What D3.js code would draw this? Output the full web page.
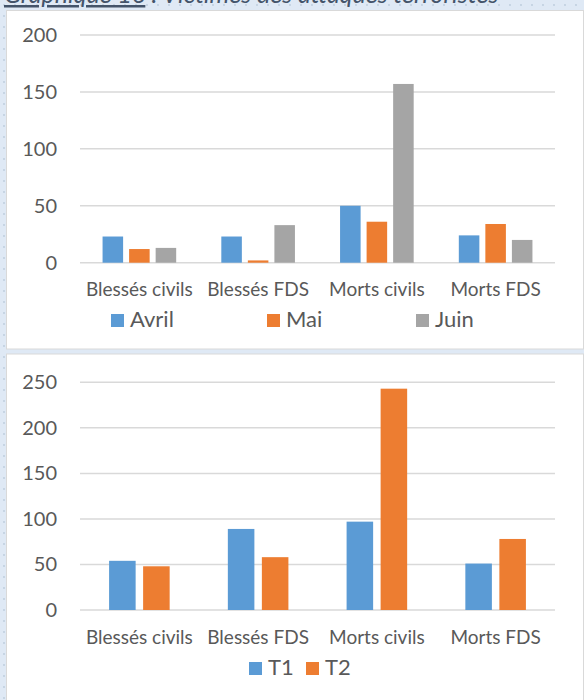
<!DOCTYPE html>
<html>
<head>
<meta charset="utf-8"/>
<title>Victimes des attaques terroristes</title>
<script src="https://d3js.org/d3.v7.min.js"></script>
<style>
    body { margin: 0; background: #dfe9f5; }
    svg { display: block; font-family: Lato, "Open Sans", sans-serif; }
    .tick text { fill: #595959; }
    .grid line { stroke: #d9d9d9; stroke-width: 1.5px; }
    .cat { fill: #595959; }
    .legend text { fill: #595959; }
</style>
</head>
<body>
<div id="chart"></div>
<script>
    // data
    var categories = ["Blessés civils", "Blessés FDS", "Morts civils", "Morts FDS"];
    var months = ["Avril", "Mai", "Juin"];
    var avril = [23, 23, 50, 24];
    var mai = [12, 2, 36, 34];
    var juin = [13, 33, 157, 20];
    var quarters = ["T1", "T2"];
    var t1 = [54, 89, 97, 51];
    var t2 = [48, 58, 243, 78];
    var ticksTop = [0, 50, 100, 150, 200];
    var ticksBottom = [0, 50, 100, 150, 200, 250];
    var colors = ["#5b9bd5", "#ed7d31", "#a5a5a5"];

    var width = 584, height = 700;

    var svg = d3.select("#chart").append("svg")
        .attr("width", width)
        .attr("height", height);

    // dotted page background
    var defs = svg.append("defs");
    var pat = defs.append("pattern")
        .attr("id", "dots")
        .attr("width", 11).attr("height", 11)
        .attr("patternUnits", "userSpaceOnUse")
        .attr("x", 3).attr("y", 0);
    pat.append("rect").attr("width", 11).attr("height", 11).attr("fill", "#dfe9f5");
    pat.append("circle").attr("cx", 1).attr("cy", 5).attr("r", 0.9).attr("fill", "#bccbdc");

    svg.append("rect").attr("width", width).attr("height", height).attr("fill", "url(#dots)");

    // title (cut at top of the page, like the reference)
    var title = svg.append("text")
        .attr("x", 4).attr("y", 3)
        .attr("font-size", 25)
        .attr("font-style", "italic")
        .attr("fill", "#44546a");
    title.append("tspan").attr("text-decoration", "underline").text("Graphique 16");
    title.append("tspan").text(" : Victimes des attaques terroristes");

    function drawChart(box, series, names, ticks, opts) {
        svg.append("rect")
            .attr("x", box.x).attr("y", box.y)
            .attr("width", box.w).attr("height", box.h)
            .attr("fill", "#fff")
            .attr("stroke", "#d9d9d9");

        var g = svg.append("g");

        var y = d3.scaleLinear()
            .domain([0, d3.max(ticks)])
            .range([opts.bottom, opts.top]);

        var x0 = d3.scaleBand()
            .domain(categories)
            .range([80, 555])
            .paddingInner(opts.groupPad)
            .paddingOuter(opts.groupPad / 2);

        var x1 = d3.scaleBand()
            .domain(names)
            .range([0, x0.bandwidth()])
            .paddingInner(opts.barPad);

        // gridlines
        g.append("g")
            .attr("class", "grid")
            .selectAll("line")
            .data(ticks)
            .enter().append("line")
            .attr("x1", 80).attr("x2", 555)
            .attr("y1", function(d){ return y(d); })
            .attr("y2", function(d){ return y(d); });

        // y axis labels
        var yAxis = d3.axisLeft(y).tickValues(ticks).tickSize(0).tickPadding(0);
        g.append("g")
            .attr("transform", "translate(57,0)")
            .call(yAxis)
            .call(function(a){ a.select(".domain").remove(); })
            .selectAll("text")
            .attr("font-size", 20)
            .attr("font-family", "Lato, sans-serif");

        // bars
        var rows = categories.map(function(c, i){
            return { cat: c, vals: names.map(function(n, j){ return { name: n, v: series[j][i], k: j }; }) };
        });
        var grp = g.selectAll(".grp")
            .data(rows)
            .enter().append("g")
            .attr("transform", function(d){ return "translate(" + x0(d.cat) + ",0)"; });
        grp.selectAll("rect")
            .data(function(d){ return d.vals; })
            .enter().append("rect")
            .attr("x", function(d){ return x1(d.name); })
            .attr("width", x1.bandwidth())
            .attr("y", function(d){ return y(d.v); })
            .attr("height", function(d){ return y(0) - y(d.v); })
            .attr("fill", function(d){ return colors[d.k]; });

        // category labels
        g.selectAll(".cat")
            .data(categories)
            .enter().append("text")
            .attr("class", "cat")
            .attr("x", function(d){ return x0(d) + x0.bandwidth() / 2; })
            .attr("y", opts.catY)
            .attr("text-anchor", "middle")
            .attr("font-size", 19)
            .text(function(d){ return d; });

        // legend
        var leg = g.append("g").attr("class", "legend")
            .selectAll("g")
            .data(names)
            .enter().append("g")
            .attr("transform", function(d, i){ return "translate(" + opts.legX[i] + "," + opts.legY + ")"; });
        leg.append("rect")
            .attr("x", 0).attr("y", -13)
            .attr("width", 13).attr("height", 13)
            .attr("fill", function(d, i){ return colors[i]; });
        leg.append("text")
            .attr("x", 19).attr("y", 0)
            .attr("font-size", 22)
            .text(function(d){ return d; });
    }

    drawChart({x: 6.5, y: 10.5, w: 577, h: 338.5}, [avril, mai, juin], months, ticksTop,
        {top: 35, bottom: 262.7, groupPad: 0.38, barPad: 0.226, catY: 296,
         legX: [111, 267, 416], legY: 327});

    drawChart({x: 6.5, y: 354, w: 577, h: 360}, [t1, t2], quarters, ticksBottom,
        {top: 382.3, bottom: 610, groupPad: 0.49, barPad: 0.22, catY: 644,
         legX: [249, 306], legY: 675});
</script>
</body>
</html>
